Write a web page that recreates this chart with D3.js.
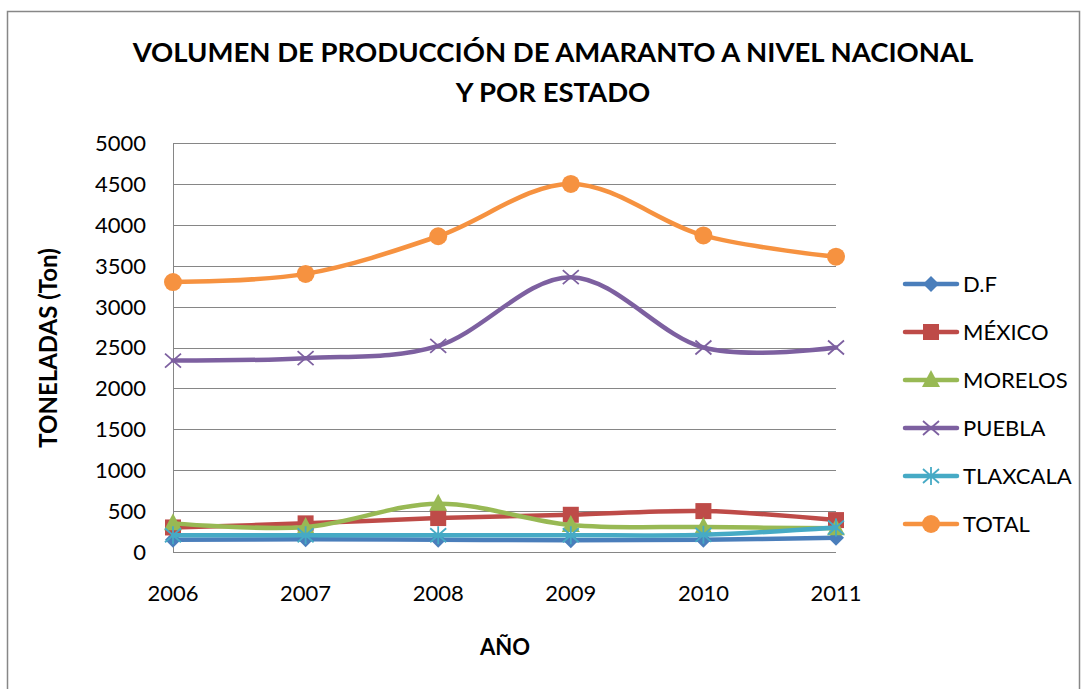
<!DOCTYPE html>
<html>
<head>
<meta charset="utf-8">
<script src="https://cdnjs.cloudflare.com/ajax/libs/d3/7.8.5/d3.min.js"></script>
<style>
  body { margin: 0; background: #fff; }
  text { font-family: Lato, "Open Sans", sans-serif; fill: #000; }
</style>
</head>
<body>
<div id="chart"></div>
<script>
const width = 1088
const height = 689
const margin = { top: 143, bottom: 137, left: 173, right: 252 }

// datos
const years = [2006, 2007, 2008, 2009, 2010, 2011]
const df       = [150, 155, 150, 145, 150, 175]
const mexico   = [300, 350, 415, 455, 500, 390]
const morelos  = [350, 305, 590, 330, 305, 290]
const puebla   = [2340, 2370, 2520, 3360, 2500, 2500]
const tlaxcala = [205, 205, 205, 205, 210, 300]
const total    = [3300, 3400, 3860, 4500, 3870, 3610]
const yTicks = [0, 500, 1000, 1500, 2000, 2500, 3000, 3500, 4000, 4500, 5000]

const seriesNames = ["D.F", "MÉXICO", "MORELOS", "PUEBLA", "TLAXCALA", "TOTAL"]
const seriesValues = [df, mexico, morelos, puebla, tlaxcala, total]
const colors = ["#4A7EBB", "#BE4B48", "#98B954", "#7D60A0", "#46AAC5", "#F69240"]
const markers = ["diamond", "square", "triangle", "x", "star", "circle"]

const series = seriesNames.map((n, i) => ({
    name: n, color: colors[i], marker: markers[i],
    values: years.map((y, j) => ({ year: y, value: seriesValues[i][j] }))
}))

const svg = d3.select("#chart").append("svg")
    .attr("width", width)
    .attr("height", height)

// borde del grafico
svg.append("rect")
    .attr("x", 7.5).attr("y", 11.5)
    .attr("width", 1072).attr("height", 690)
    .attr("fill", "#fff").attr("stroke", "#878787").attr("stroke-width", 1.5)

const x = d3.scalePoint().domain(years).range([0, 663])
const y = d3.scaleLinear().domain([0, 5000]).range([409, 0])

const g = svg.append("g").attr("transform", `translate(${margin.left}, ${margin.top})`)

// lineas de la cuadricula
g.selectAll(".grid").data(yTicks).join("line")
    .attr("class", "grid")
    .attr("x1", 0).attr("x2", x.range()[1])
    .attr("y1", d => Math.round(y(d)) + 0.5).attr("y2", d => Math.round(y(d)) + 0.5)
    .attr("stroke", "#868686").attr("stroke-width", 1)

g.append("line")
    .attr("x1", 0.5).attr("x2", 0.5).attr("y1", 0).attr("y2", y(0))
    .attr("stroke", "#868686")

// etiquetas de ejes
g.selectAll(".ytick").data(yTicks).join("text")
    .attr("x", -27).attr("y", d => y(d))
    .attr("dy", "0.36em")
    .attr("text-anchor", "end")
    .attr("font-size", 22)
    .text(d => d)

g.selectAll(".xtick").data(years).join("text")
    .attr("x", d => x(d)).attr("y", 450)
    .attr("dy", "0.36em")
    .attr("text-anchor", "middle")
    .attr("font-size", 22)
    .text(d => d)

const line = d3.line()
    .x(d => x(d.year))
    .y(d => y(d.value))
    .curve(d3.curveCardinal.tension(0))

function drawMarker(sel, type, color) {
    if (type === "diamond") {
        sel.append("path").attr("d", "M0,-8L8,0L0,8L-8,0Z").attr("fill", color)
    } else if (type === "square") {
        sel.append("rect").attr("x", -8).attr("y", -8).attr("width", 16).attr("height", 16).attr("fill", color)
    } else if (type === "triangle") {
        sel.append("path").attr("d", "M0,-10L9,7L-9,7Z").attr("fill", color)
    } else if (type === "x") {
        sel.append("path").attr("d", "M-8,-7L8,7M-8,7L8,-7").attr("stroke", color).attr("stroke-width", 1.8)
    } else if (type === "star") {
        sel.append("path").attr("d", "M-8,-7L8,7M-8,7L8,-7M0,-9L0,9").attr("stroke", color).attr("stroke-width", 1.8)
    } else if (type === "circle") {
        sel.append("circle").attr("r", 9).attr("fill", color)
    }
}

series.forEach(s => {
    const sg = g.append("g")
    sg.append("path")
        .attr("d", line(s.values))
        .attr("fill", "none")
        .attr("stroke", s.color)
        .attr("stroke-width", 4.5)
        .attr("stroke-linecap", "round")
    sg.selectAll(".m").data(s.values).join("g")
        .attr("transform", d => `translate(${x(d.year)}, ${y(d.value)})`)
        .each(function () { drawMarker(d3.select(this), s.marker, s.color) })
})

// titulo
svg.append("text")
    .attr("x", 553).attr("y", 52).attr("dy", "0.36em")
    .attr("text-anchor", "middle").attr("font-size", 27.5).attr("font-weight", "bold")
    .text("VOLUMEN DE PRODUCCIÓN DE AMARANTO A NIVEL NACIONAL")
svg.append("text")
    .attr("x", 553).attr("y", 92).attr("dy", "0.36em")
    .attr("text-anchor", "middle").attr("font-size", 27.5).attr("font-weight", "bold")
    .text("Y POR ESTADO")

svg.append("text")
    .attr("x", 505).attr("y", 647).attr("dy", "0.36em")
    .attr("text-anchor", "middle").attr("font-size", 22).attr("font-weight", "bold")
    .text("AÑO")

svg.append("text")
    .attr("transform", "translate(48, 348) rotate(-90)")
    .attr("dy", "0.36em")
    .attr("text-anchor", "middle").attr("font-size", 24).attr("font-weight", "bold")
    .text("TONELADAS (Ton)")

// leyenda
const legend = svg.append("g").attr("transform", "translate(903, 284)")
const items = legend.selectAll(".item").data(series).join("g")
    .attr("transform", (d, i) => `translate(0, ${i * 48})`)
items.append("line")
    .attr("x1", 2).attr("x2", 54)
    .attr("stroke", d => d.color).attr("stroke-width", 4.5).attr("stroke-linecap", "round")
items.each(function (d) {
    const m = d3.select(this).append("g").attr("transform", "translate(28, 0)")
    drawMarker(m, d.marker, d.color)
})
items.append("text")
    .attr("x", 60).attr("dy", "0.36em")
    .attr("font-size", 22)
    .text(d => d.name)
</script>
</body>
</html>
